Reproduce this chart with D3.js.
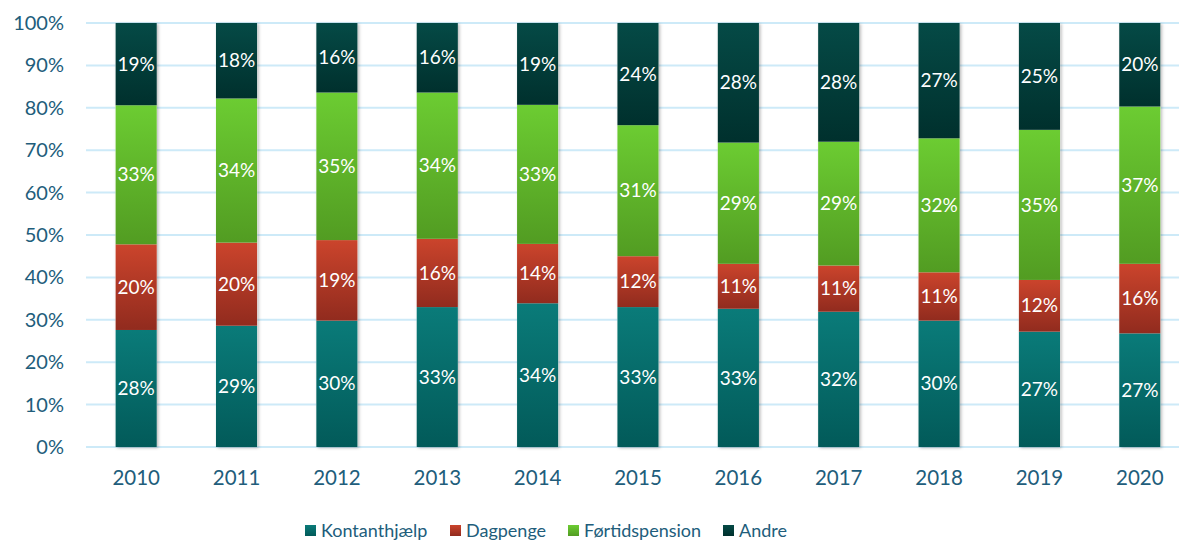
<!DOCTYPE html>
<html>
<head>
<meta charset="utf-8">
<script src="https://cdn.jsdelivr.net/npm/d3@7"></script>
<style>
  body { margin: 0; background: #fff; }
  text { font-family: Lato, "Open Sans", sans-serif; }
</style>
</head>
<body>
<div id="chart"></div>
<script>
// data (share of total, %)
var years = ["2010", "2011", "2012", "2013", "2014", "2015", "2016", "2017", "2018", "2019", "2020"];
var kontanthjaelp = [27.6, 28.6, 29.8, 33.0, 33.9, 33.0, 32.6, 31.9, 29.8, 27.2, 26.8];
var dagpenge      = [20.2, 19.6, 19.0, 16.1, 14.0, 12.0, 10.6, 10.9, 11.4, 12.2, 16.4];
var fortid        = [32.8, 34.0, 34.8, 34.5, 32.8, 30.9, 28.6, 29.2, 31.6, 35.4, 37.1];
var andre         = [19.4, 17.8, 16.4, 16.4, 19.3, 24.1, 28.2, 28.0, 27.2, 25.2, 19.7];
var seriesNames = ["Kontanthjælp", "Dagpenge", "Førtidspension", "Andre"];
var yTicks = [0, 10, 20, 30, 40, 50, 60, 70, 80, 90, 100];

var w = 1179, h = 543;
var margin = { top: 23, right: -11, bottom: 96, left: 86 };
var width = w - margin.left - margin.right;
var height = h - margin.top - margin.bottom;

var colors = [
  ["#0a7b79", "#025a59"],
  ["#cb442c", "#912b1e"],
  ["#6ccc32", "#529c22"],
  ["#054a46", "#00302d"]
];
var textColor = "#215d7b";

var svg = d3.select("#chart").append("svg")
  .attr("width", w)
  .attr("height", h);

var defs = svg.append("defs");
colors.forEach(function(c, i) {
  var g = defs.append("linearGradient")
    .attr("id", "grad" + i)
    .attr("x1", 0).attr("y1", 0).attr("x2", 0).attr("y2", 1);
  g.append("stop").attr("offset", "0%").attr("stop-color", c[0]);
  g.append("stop").attr("offset", "100%").attr("stop-color", c[1]);
});
var shadow = defs.append("filter").attr("id", "shadow")
  .attr("x", "-20%").attr("y", "-5%").attr("width", "140%").attr("height", "110%");
shadow.append("feDropShadow")
  .attr("dx", 1.5).attr("dy", 1).attr("stdDeviation", 1.5)
  .attr("flood-color", "#000").attr("flood-opacity", 0.28);

var chartGroup = svg.append("g")
  .attr("transform", `translate(${margin.left}, ${margin.top})`);

var xScale = d3.scaleBand()
  .domain(years)
  .range([0, width])
  .paddingInner(0.59)
  .paddingOuter(0.295);

var yScale = d3.scaleLinear()
  .domain([0, 100])
  .range([height, 0]);

// gridlines
chartGroup.append("g")
  .selectAll("line")
  .data(yTicks)
  .enter()
  .append("line")
  .attr("x1", 0)
  .attr("x2", width)
  .attr("y1", d => yScale(d))
  .attr("y2", d => yScale(d))
  .attr("stroke", "#cdeaf8")
  .attr("stroke-width", 2);

// y axis
var leftAxis = d3.axisLeft(yScale)
  .tickValues(yTicks)
  .tickFormat(d => d + "%")
  .tickSize(0)
  .tickPadding(22);
var yAxis = chartGroup.append("g").call(leftAxis);
yAxis.select(".domain").remove();
yAxis.selectAll("text")
  .attr("fill", textColor)
  .style("font-size", "20px");

// x axis
var bottomAxis = d3.axisBottom(xScale).tickSize(0).tickPadding(23);
var xAxis = chartGroup.append("g")
  .attr("transform", `translate(0, ${height})`)
  .call(bottomAxis);
xAxis.select(".domain").remove();
xAxis.selectAll("text")
  .attr("fill", textColor)
  .style("font-size", "20.5px");

// stacked data
var rows = years.map(function(y, i) {
  return { year: y, k: kontanthjaelp[i], d: dagpenge[i], f: fortid[i], a: andre[i] };
});
var stack = d3.stack().keys(["k", "d", "f", "a"]);
var layers = stack(rows);

// bars
var barGroup = chartGroup.append("g");
barGroup.selectAll("rect.shadow")
  .data(rows)
  .enter()
  .append("rect")
  .attr("class", "shadow")
  .attr("x", d => xScale(d.year))
  .attr("width", xScale.bandwidth())
  .attr("y", yScale(100))
  .attr("height", yScale(0) - yScale(100))
  .attr("fill", "#fff")
  .attr("filter", "url(#shadow)");

layers.forEach(function(layer, i) {
  barGroup.append("g")
    .selectAll("rect")
    .data(layer)
    .enter()
    .append("rect")
    .attr("x", d => xScale(d.data.year))
    .attr("width", xScale.bandwidth())
    .attr("y", d => yScale(d[1]))
    .attr("height", d => yScale(d[0]) - yScale(d[1]))
    .attr("fill", "url(#grad" + i + ")");
});

// labels
layers.forEach(function(layer) {
  chartGroup.append("g")
    .selectAll("text")
    .data(layer)
    .enter()
    .append("text")
    .attr("x", d => xScale(d.data.year) + xScale.bandwidth() / 2)
    .attr("y", d => yScale((d[0] + d[1]) / 2))
    .attr("dy", "0.35em")
    .attr("text-anchor", "middle")
    .attr("fill", "#fff")
    .style("font-size", "19px")
    .text(d => Math.round(d[1] - d[0]) + "%");
});

// legend
var legendX = [305, 450, 568, 723];
var legend = svg.append("g");
seriesNames.forEach(function(name, i) {
  legend.append("rect")
    .attr("x", legendX[i])
    .attr("y", 525)
    .attr("width", 11)
    .attr("height", 11)
    .attr("fill", "url(#grad" + i + ")");
  legend.append("text")
    .attr("x", legendX[i] + 16)
    .attr("y", 531)
    .attr("dy", "0.35em")
    .attr("fill", textColor)
    .style("font-size", "18px")
    .text(name);
});
</script>
</body>
</html>
